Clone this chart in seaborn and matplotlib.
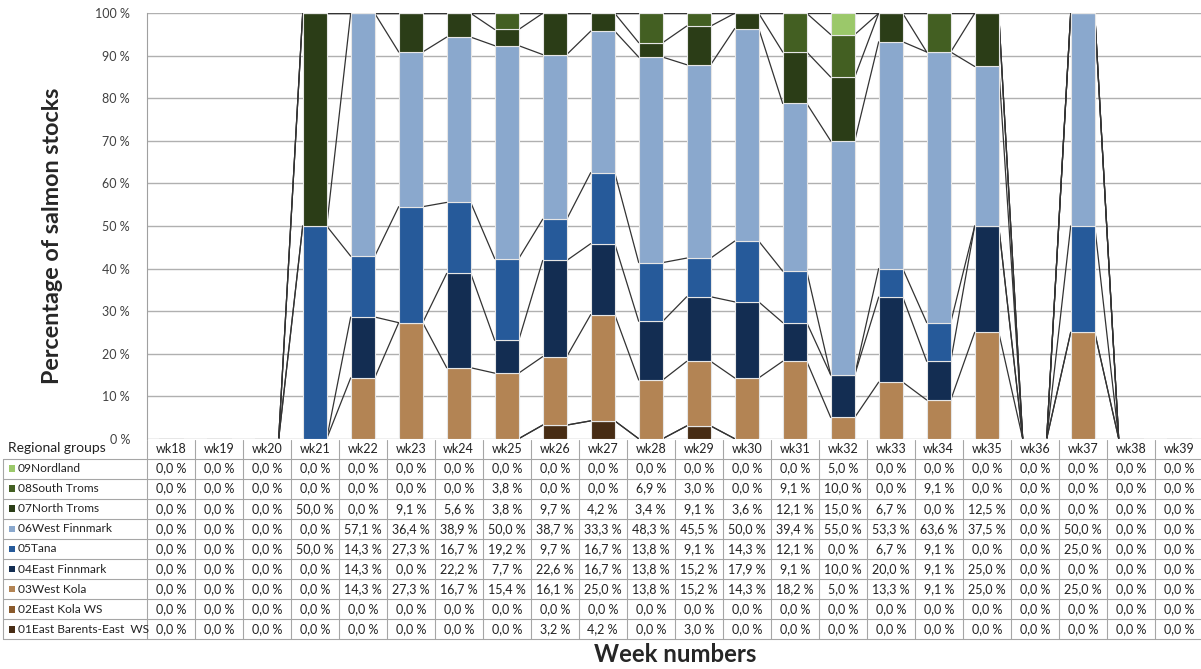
import numpy as np
import matplotlib
matplotlib.use("Agg")
import matplotlib.pyplot as plt
import seaborn as sns

weeks = ["wk18", "wk19", "wk20", "wk21", "wk22", "wk23", "wk24", "wk25", "wk26", "wk27", "wk28",
         "wk29", "wk30", "wk31", "wk32", "wk33", "wk34", "wk35", "wk36", "wk37", "wk38", "wk39"]

# table order (top to bottom); stacking is bottom-up from 01
groups = ["09Nordland", "08South Troms", "07North Troms", "06West Finnmark", "05Tana",
          "04East Finnmark", "03West Kola", "02East Kola WS", "01East Barents-East  WS"]
colors = ["#9bc86a", "#435f22", "#2b3d17", "#8aa8cd", "#265a9a", "#132d52", "#b38454", "#8a5a2c", "#472c14"]

nordland      = [0, 0, 0, 0, 0, 0, 0, 0, 0, 0, 0, 0, 0, 0, 5.0, 0, 0, 0, 0, 0, 0, 0]
south_troms   = [0, 0, 0, 0, 0, 0, 0, 3.8, 0, 0, 6.9, 3.0, 0, 9.1, 10.0, 0, 9.1, 0, 0, 0, 0, 0]
north_troms   = [0, 0, 0, 50.0, 0, 9.1, 5.6, 3.8, 9.7, 4.2, 3.4, 9.1, 3.6, 12.1, 15.0, 6.7, 0, 12.5, 0, 0, 0, 0]
west_finnmark = [0, 0, 0, 0, 57.1, 36.4, 38.9, 50.0, 38.7, 33.3, 48.3, 45.5, 50.0, 39.4, 55.0, 53.3, 63.6, 37.5, 0, 50.0, 0, 0]
tana          = [0, 0, 0, 50.0, 14.3, 27.3, 16.7, 19.2, 9.7, 16.7, 13.8, 9.1, 14.3, 12.1, 0, 6.7, 9.1, 0, 0, 25.0, 0, 0]
east_finnmark = [0, 0, 0, 0, 14.3, 0, 22.2, 7.7, 22.6, 16.7, 13.8, 15.2, 17.9, 9.1, 10.0, 20.0, 9.1, 25.0, 0, 0, 0, 0]
west_kola     = [0, 0, 0, 0, 14.3, 27.3, 16.7, 15.4, 16.1, 25.0, 13.8, 15.2, 14.3, 18.2, 5.0, 13.3, 9.1, 25.0, 0, 25.0, 0, 0]
east_kola     = [0] * 22
east_barents  = [0, 0, 0, 0, 0, 0, 0, 0, 3.2, 4.2, 0, 3.0, 0, 0, 0, 0, 0, 0, 0, 0, 0, 0]

series = [nordland, south_troms, north_troms, west_finnmark, tana,
          east_finnmark, west_kola, east_kola, east_barents]

W, H = 1201, 669
fig = plt.figure(figsize=(W / 100, H / 100), dpi=100)
sns.set_style("white")
plt.rcParams["font.family"] = ["Lato", "DejaVu Sans"]

x0, x1 = 146.7, 1202.7
ytop, ybot = 13.3, 438.7
ax = fig.add_axes([x0 / W, 1 - ybot / H, (x1 - x0) / W, (ybot - ytop) / H])

vals = np.array(series, dtype=float)[::-1]  # bottom-up: 01 .. 09
tot = vals.sum(axis=0)
pct = np.where(tot > 0, vals / np.where(tot > 0, tot, 1) * 100, 0)
cols_bu = colors[::-1]

bottom = np.zeros(len(weeks))
for k in range(len(pct)):
    sns.barplot(x=weeks, y=pct[k], bottom=bottom, color=cols_bu[k], saturation=1,
                width=0.5, errorbar=None, ax=ax, edgecolor="#e6e6e6", linewidth=0.8, zorder=3)
    bottom = bottom + pct[k]

# series lines between adjacent bars
cum = np.cumsum(pct, axis=0)
for k in range(len(cum)):
    for i in range(len(weeks) - 1):
        a, b = cum[k][i], cum[k][i + 1]
        if a == 0 and b == 0:
            continue
        ax.plot([i + 0.25, i + 0.75], [a, b], color="#333333", lw=0.9, zorder=2)

ax.set_xlim(-0.5, len(weeks) - 0.5)
ax.set_ylim(0, 100)
ax.set_yticks(range(0, 101, 10))
ax.set_yticklabels([f"{v} %" for v in range(0, 101, 10)], fontsize=9, color="#404040")
ax.set_xticks([])
ax.set_xlabel("")
ax.grid(axis="y", color="#b0b0b0", lw=1, zorder=0)
for s in ["top", "right", "bottom"]:
    ax.spines[s].set_visible(False)
ax.spines["left"].set_color("#a0a0a0")
ax.tick_params(axis="y", length=0, pad=12)
ax.set_ylabel("")

# data table drawn in pixel coordinates
tb = fig.add_axes([0, 0, 1, 1], zorder=-1)
tb.set_xlim(0, W)
tb.set_ylim(H, 0)
tb.axis("off")
cw = (x1 - x0) / len(weeks)
hdr_top, row_top, rh = 440, 458.5, 20.1
n = len(groups)
tb_bot = row_top + n * rh
gc = "#a6a6a6"
tb.text(8, 448, "Regional groups", fontsize=10, va="center", ha="left", color="#222222")
for i, w in enumerate(weeks):
    xc = x0 + (i + 0.5) * cw
    tb.text(xc, 449, w, fontsize=9, ha="center", va="center", color="#222222")
for i in range(len(weeks) + 1):
    tb.plot([x0 + i * cw] * 2, [hdr_top, tb_bot], color=gc, lw=0.8)
for r in range(n + 1):
    tb.plot([3, x1], [row_top + r * rh] * 2, color=gc, lw=0.8)
tb.plot([3, 3], [row_top, tb_bot], color=gc, lw=0.8)
for r, (g, c, s) in enumerate(zip(groups, colors, series)):
    yc = row_top + (r + 0.5) * rh
    tb.scatter([12], [yc], marker="s", s=22, color=c, edgecolor="none")
    tb.text(18, yc, g, fontsize=8.6, ha="left", va="center", color="#222222")
    for i, v in enumerate(s):
        xc = x0 + (i + 0.5) * cw
        tb.text(xc, yc, f"{v:.1f} %".replace(".", ","), fontsize=9, ha="center", va="center", color="#222222")

fig.text(53 / W, 1 - 236 / H, "Percentage of salmon stocks", rotation=90, fontsize=16.8,
         fontweight="bold", ha="center", va="center")
fig.text(675 / W, 1 - 655 / H, "Week numbers", fontsize=17.2, fontweight="bold", ha="center", va="center")

fig.savefig("out.png", dpi=100)
